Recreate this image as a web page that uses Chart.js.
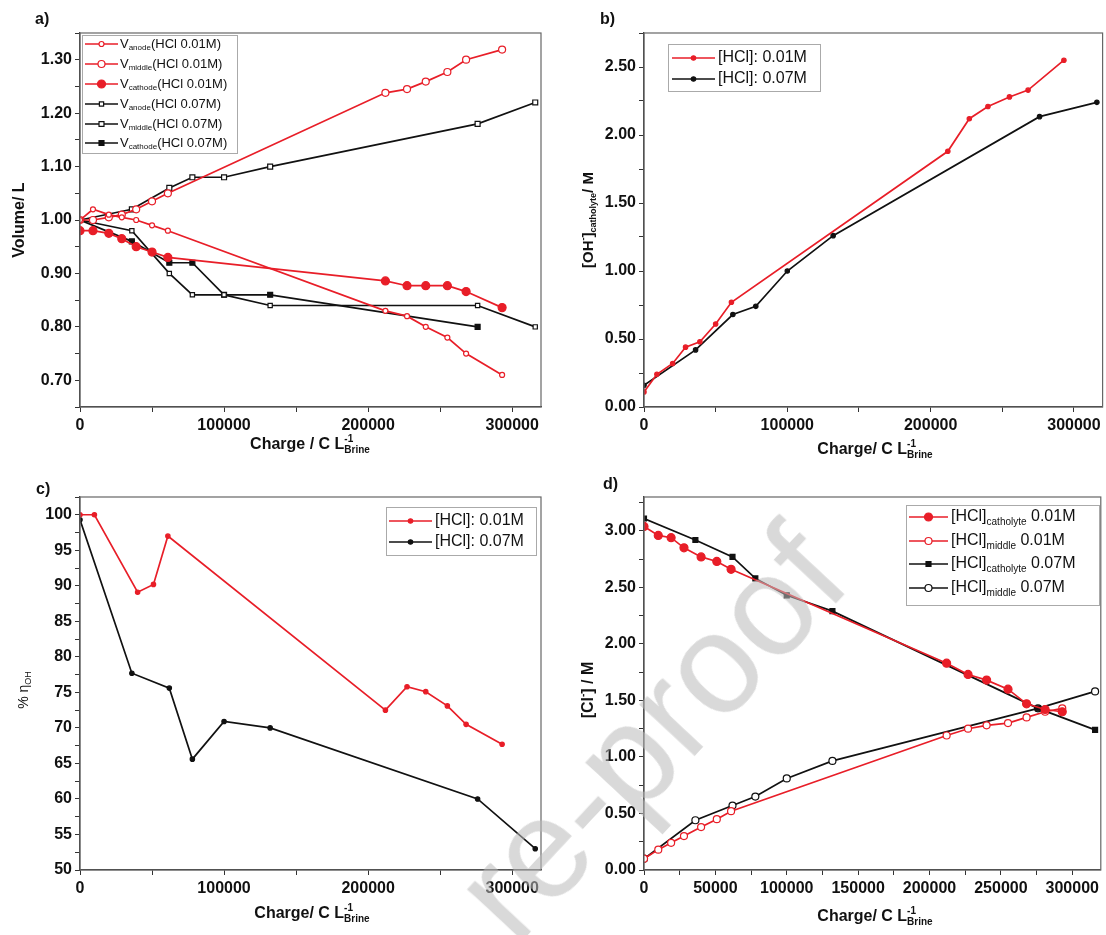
<!doctype html>
<html lang="en">
<head>
<meta charset="utf-8">
<title>Charge vs volume, [OH-], efficiency and [Cl-]</title>
<script src="https://cdn.jsdelivr.net/npm/chart.js@4.4.1/dist/chart.umd.min.js"></script>
<style>
  html, body { margin: 0; padding: 0; background: #fff; }
  body { width: 1106px; height: 935px; position: relative; overflow: hidden; font-family: "Liberation Sans", Arial, sans-serif; }
  .panel { position: absolute; }
  .watermark {
    position: absolute; left: 428px; top: 866px; white-space: nowrap;
    font: 142px "Liberation Sans", Arial, sans-serif; line-height: 1;
    color: rgba(185,185,185,0.55); transform-origin: 0 0; transform: rotate(-47deg);
    pointer-events: none;
  }
</style>
</head>
<body>
<div class="panel" style="left:0;top:0"><canvas id="chartA" width="553" height="467"></canvas></div>
<div class="panel" style="left:553px;top:0"><canvas id="chartB" width="553" height="467"></canvas></div>
<div class="panel" style="left:0;top:467px"><canvas id="chartC" width="553" height="468"></canvas></div>
<div class="panel" style="left:553px;top:467px"><canvas id="chartD" width="553" height="468"></canvas></div>
<div class="watermark">re-proof</div>

<script>
// ---- data ----
// charge (C per L brine) at which samples were taken
const chargeRed = [0, 9000, 20000, 29000, 39000, 50000, 61000, 212000, 227000, 240000, 255000, 268000, 293000];
const chargeBlack = [0, 36000, 62000, 78000, 100000, 132000, 276000, 316000];

// a) volumes (L)
const vAnode001 = [1.00, 1.02, 1.01, 1.005, 1.00, 0.99, 0.98, 0.83, 0.82, 0.80, 0.78, 0.75, 0.71];
const vMiddle001 = [1.00, 1.00, 1.005, 1.01, 1.02, 1.035, 1.05, 1.238, 1.245, 1.259, 1.277, 1.30, 1.319];
const vCathode001 = [0.98, 0.98, 0.975, 0.965, 0.95, 0.94, 0.93, 0.886, 0.877, 0.877, 0.877, 0.866, 0.836];
const vAnode007 = [1.00, 0.98, 0.90, 0.86, 0.86, 0.84, 0.84, 0.80];
const vMiddle007 = [1.00, 1.02, 1.06, 1.08, 1.08, 1.10, 1.18, 1.22];
const vCathode007 = [1.00, 0.96, 0.92, 0.92, 0.86, 0.86, 0.80, null];

// b) [OH-] catholyte (M)
const ohRed = [0.11, 0.24, 0.32, 0.44, 0.48, 0.61, 0.77, 1.88, 2.12, 2.21, 2.28, 2.33, 2.55];
const ohBlack = [0.16, 0.42, 0.68, 0.74, 1.00, 1.26, 2.135, 2.24];

// c) % efficiency OH-
const chargeRedEff = [0, 10000, 40000, 51000, 61000, 212000, 227000, 240000, 255000, 268000, 293000];
const effRed = [100, 100, 89.1, 90.2, 97.0, 72.5, 75.8, 75.1, 73.1, 70.5, 67.7];
const effBlack = [99.3, 77.7, 75.6, 65.6, 70.9, 70.0, 60.0, 53.0];

// d) [Cl-] (M)
const chargeRedCl = [0, 10000, 19000, 28000, 40000, 51000, 61000, 212000, 227000, 240000, 255000, 268000, 281000, 293000];
const clCatholyte001 = [3.04, 2.96, 2.94, 2.85, 2.77, 2.73, 2.66, 1.83, 1.73, 1.68, 1.60, 1.47, 1.42, 1.40];
const clMiddle001 = [0.10, 0.18, 0.24, 0.30, 0.38, 0.45, 0.52, 1.19, 1.25, 1.28, 1.30, 1.35, 1.40, 1.43];
const clCatholyte007 = [3.11, 2.92, 2.77, 2.58, 2.43, 2.29, 1.43, 1.24];
const clMiddle007 = [0.10, 0.44, 0.57, 0.65, 0.81, 0.965, 1.43, 1.58];

// tick labels
const xTicksMain = [0, 100000, 200000, 300000];
const xTicksD = [0, 50000, 100000, 150000, 200000, 250000, 300000];
const yTicksA = [0.70, 0.80, 0.90, 1.00, 1.10, 1.20, 1.30];
const yTicksB = [0.00, 0.50, 1.00, 1.50, 2.00, 2.50];
const yTicksC = [50, 55, 60, 65, 70, 75, 80, 85, 90, 95, 100];
const yTicksD = [0.00, 0.50, 1.00, 1.50, 2.00, 2.50, 3.00];

// ---- helpers ----
const RED = 'rgb(232,30,40)';
const BLACK = '#111';
const FONT = '"Liberation Sans", Arial, sans-serif';

function pts(xs, ys) {
  return xs.map((x, i) => ({ x: x, y: ys[i] })).filter(p => p.y !== null);
}

function series(label, xs, ys, color, style, radius, filled) {
  return {
    label: label,
    data: pts(xs, ys),
    borderColor: color,
    backgroundColor: color,
    borderWidth: 1.7,
    pointStyle: style,
    pointRadius: radius,
    pointHoverRadius: radius,
    pointBackgroundColor: filled ? color : '#fff',
    pointBorderColor: color,
    pointBorderWidth: 1.2,
    tension: 0,
    fill: false
  };
}

function isMajor(major, v) {
  return major.some(m => Math.abs(m - v) < 1e-6);
}

// major ticks plus one minor tick half way between them
function withMinor(major, min, max) {
  const step = major[1] - major[0];
  const out = [];
  for (let k = -2; k <= major.length * 2; k++) {
    const v = Math.round((major[0] + k * step / 2) * 1e6) / 1e6;
    if (v >= min - 1e-9 && v <= max + 1e-9) out.push(v);
  }
  return out;
}

function axes(o) {
  const tickFont = { family: FONT, size: 16, weight: 'bold' };
  return {
    x: {
      type: 'linear', min: o.xMin, max: o.xMax,
      afterBuildTicks: s => { s.ticks = withMinor(o.xMajor, o.xMin, o.xMax).map(v => ({ value: v })); },
      afterFit: s => { s.height = o.bottom; },
      ticks: {
        autoSkip: false, maxRotation: 0, padding: 4, color: '#111', font: tickFont,
        callback: v => isMajor(o.xMajor, v) ? String(v) : ''
      },
      grid: { drawOnChartArea: false, tickLength: 5, color: '#333' },
      border: { color: '#333', width: 1.3 }
    },
    y: {
      type: 'linear', min: o.yMin, max: o.yMax,
      afterBuildTicks: s => { s.ticks = withMinor(o.yMajor, o.yMin, o.yMax).map(v => ({ value: v })); },
      afterFit: s => { s.width = o.left; },
      ticks: {
        autoSkip: false, padding: 3, color: '#111', font: tickFont,
        callback: v => isMajor(o.yMajor, v) ? v.toFixed(o.yDec) : ''
      },
      grid: { drawOnChartArea: false, tickLength: 5, color: '#333' },
      border: { color: '#333', width: 1.3 }
    }
  };
}

function richWidth(ctx, parts, size, weight) {
  let w = 0;
  parts.forEach(p => {
    if (p.t !== undefined) {
      ctx.font = weight + ' ' + size + 'px ' + FONT;
      w += ctx.measureText(p.t).width;
    } else {
      ctx.font = weight + ' ' + Math.round(size * 0.62) + 'px ' + FONT;
      w += Math.max(p.sup ? ctx.measureText(p.sup).width : 0, p.sub ? ctx.measureText(p.sub).width : 0);
    }
  });
  return w;
}

// text with sub/superscripts; parts: {t} normal, {sup, sub} small (stacked when both)
function drawRich(ctx, item) {
  const size = item.size;
  const weight = item.weight || 'bold';
  ctx.save();
  ctx.translate(item.x, item.y);
  if (item.rot) ctx.rotate(item.rot * Math.PI / 180);
  ctx.fillStyle = item.color || '#111';
  ctx.textBaseline = 'middle';
  ctx.textAlign = 'left';
  let x = item.align === 'left' ? 0 : -richWidth(ctx, item.parts, size, weight) / 2;
  item.parts.forEach(p => {
    if (p.t !== undefined) {
      ctx.font = weight + ' ' + size + 'px ' + FONT;
      ctx.fillText(p.t, x, 0);
      x += ctx.measureText(p.t).width;
    } else {
      ctx.font = weight + ' ' + Math.round(size * 0.62) + 'px ' + FONT;
      let w = 0;
      if (p.sup) { ctx.fillText(p.sup, x, -size * 0.38); w = ctx.measureText(p.sup).width; }
      if (p.sub) { ctx.fillText(p.sub, x, size * 0.32); w = Math.max(w, ctx.measureText(p.sub).width); }
      x += w;
    }
  });
  ctx.restore();
}

function panelPlugins(legend, texts) {
  return [{
    id: 'frame',
    afterDraw(chart) {
      const a = chart.chartArea, ctx = chart.ctx;
      ctx.save();
      ctx.strokeStyle = '#666';
      ctx.lineWidth = 1.2;
      ctx.strokeRect(a.left, a.top, a.right - a.left, a.bottom - a.top);
      ctx.restore();
    }
  }, {
    id: 'boxLegend',
    afterDatasetsDraw(chart) {
      const ctx = chart.ctx, o = legend;
      ctx.save();
      ctx.fillStyle = '#fff';
      ctx.fillRect(o.x, o.y, o.w, o.h);
      ctx.strokeStyle = '#aaa';
      ctx.lineWidth = 1;
      ctx.strokeRect(o.x + 0.5, o.y + 0.5, o.w, o.h);
      o.rows.forEach(r => {
        const ds = chart.data.datasets[r.ds];
        ctx.strokeStyle = ds.borderColor;
        ctx.lineWidth = ds.borderWidth;
        ctx.beginPath();
        ctx.moveTo(o.x0, r.y);
        ctx.lineTo(o.x1, r.y);
        ctx.stroke();
        ctx.fillStyle = ds.pointBackgroundColor;
        ctx.strokeStyle = ds.pointBorderColor;
        ctx.lineWidth = ds.pointBorderWidth;
        Chart.helpers.drawPoint(ctx, { pointStyle: ds.pointStyle, radius: ds.pointRadius, rotation: 0, borderWidth: ds.pointBorderWidth }, (o.x0 + o.x1) / 2, r.y);
        drawRich(ctx, { x: o.tx, y: r.y, align: 'left', size: o.size, weight: 'normal', parts: r.parts });
      });
      ctx.restore();
    }
  }, {
    id: 'richText',
    afterDraw(chart) {
      texts.forEach(t => drawRich(chart.ctx, t));
    }
  }];
}

function makeChart(id, datasets, o, legend, texts) {
  return new Chart(document.getElementById(id), {
    type: 'line',
    data: { datasets: datasets },
    options: {
      responsive: false,
      animation: false,
      devicePixelRatio: 1,
      layout: { padding: { top: o.top, right: o.right, left: 0, bottom: 0 } },
      scales: axes(o),
      plugins: { legend: { display: false }, tooltip: { enabled: false } }
    },
    plugins: panelPlugins(legend, texts)
  });
}

const chargeTitle = [{ t: 'Charge/ C L' }, { sup: '-1', sub: 'Brine' }];

// ---- a) volume ----
makeChart('chartA', [
  series('Vanode 0.01', chargeRed, vAnode001, RED, 'circle', 2.5, false),
  series('Vmiddle 0.01', chargeRed, vMiddle001, RED, 'circle', 3.5, false),
  series('Vcathode 0.01', chargeRed, vCathode001, RED, 'circle', 4, true),
  series('Vanode 0.07', chargeBlack, vAnode007, BLACK, 'rect', 3, false),
  series('Vmiddle 0.07', chargeBlack, vMiddle007, BLACK, 'rect', 3.5, false),
  series('Vcathode 0.07', chargeBlack, vCathode007, BLACK, 'rect', 3.5, true)
], { xMin: 0, xMax: 320000, xMajor: xTicksMain, yMin: 0.65, yMax: 1.35, yMajor: yTicksA, yDec: 2,
     top: 33, right: 12, left: 80, bottom: 60 },
{ x: 82, y: 35, w: 155, h: 118, x0: 85, x1: 118, tx: 120, size: 13, rows: [
  { ds: 0, y: 44, parts: [{ t: 'V' }, { sub: 'anode' }, { t: '(HCl 0.01M)' }] },
  { ds: 1, y: 64, parts: [{ t: 'V' }, { sub: 'middle' }, { t: '(HCl 0.01M)' }] },
  { ds: 2, y: 84, parts: [{ t: 'V' }, { sub: 'cathode' }, { t: '(HCl 0.01M)' }] },
  { ds: 3, y: 104, parts: [{ t: 'V' }, { sub: 'anode' }, { t: '(HCl 0.07M)' }] },
  { ds: 4, y: 124, parts: [{ t: 'V' }, { sub: 'middle' }, { t: '(HCl 0.07M)' }] },
  { ds: 5, y: 143, parts: [{ t: 'V' }, { sub: 'cathode' }, { t: '(HCl 0.07M)' }] }
] },
[
  { x: 35, y: 20, align: 'left', size: 16, parts: [{ t: 'a)' }] },
  { x: 20, y: 220, rot: -90, size: 16, parts: [{ t: 'Volume/ L' }] },
  { x: 310, y: 445, size: 16, parts: [{ t: 'Charge / C L' }, { sup: '-1', sub: 'Brine' }] }
]);

// ---- b) [OH-] ----
makeChart('chartB', [
  series('[HCl]: 0.01M', chargeRed, ohRed, RED, 'circle', 2.2, true),
  series('[HCl]: 0.07M', chargeBlack, ohBlack, BLACK, 'circle', 2.2, true)
], { xMin: 0, xMax: 320000, xMajor: xTicksMain, yMin: 0, yMax: 2.75, yMajor: yTicksB, yDec: 2,
     top: 33, right: 2, left: 91, bottom: 60 },
{ x: 115, y: 44, w: 152, h: 47, x0: 119, x1: 162, tx: 165, size: 16, rows: [
  { ds: 0, y: 58, parts: [{ t: '[HCl]: 0.01M' }] },
  { ds: 1, y: 79, parts: [{ t: '[HCl]: 0.07M' }] }
] },
[
  { x: 47, y: 20, align: 'left', size: 16, parts: [{ t: 'b)' }] },
  { x: 36, y: 220, rot: -90, size: 15, parts: [{ t: '[OH' }, { sup: '-' }, { t: ']' }, { sub: 'catholyte' }, { t: '/ M' }] },
  { x: 322, y: 450, size: 16, parts: chargeTitle }
]);

// ---- c) efficiency ----
makeChart('chartC', [
  series('[HCl]: 0.01M', chargeRedEff, effRed, RED, 'circle', 2.2, true),
  series('[HCl]: 0.07M', chargeBlack, effBlack, BLACK, 'circle', 2.2, true)
], { xMin: 0, xMax: 320000, xMajor: xTicksMain, yMin: 50, yMax: 102.5, yMajor: yTicksC, yDec: 0,
     top: 30, right: 12, left: 80, bottom: 65 },
{ x: 386, y: 40, w: 150, h: 48, x0: 389, x1: 432, tx: 435, size: 16, rows: [
  { ds: 0, y: 54, parts: [{ t: '[HCl]: 0.01M' }] },
  { ds: 1, y: 75, parts: [{ t: '[HCl]: 0.07M' }] }
] },
[
  { x: 36, y: 23, align: 'left', size: 16, parts: [{ t: 'c)' }] },
  { x: 24, y: 223, rot: -90, size: 14, weight: 'normal', parts: [{ t: '% η' }, { sub: 'OH' }] },
  { x: 312, y: 447, size: 16, parts: chargeTitle }
]);

// ---- d) [Cl-] ----
makeChart('chartD', [
  series('[HCl]catholyte 0.01M', chargeRedCl, clCatholyte001, RED, 'circle', 4, true),
  series('[HCl]middle 0.01M', chargeRedCl, clMiddle001, RED, 'circle', 3.5, false),
  series('[HCl]catholyte 0.07M', chargeBlack, clCatholyte007, BLACK, 'rect', 3.5, true),
  series('[HCl]middle 0.07M', chargeBlack, clMiddle007, BLACK, 'circle', 3.5, false)
], { xMin: 0, xMax: 320000, xMajor: xTicksD, yMin: 0, yMax: 3.3, yMajor: yTicksD, yDec: 2,
     top: 30, right: 2, left: 91, bottom: 65 },
{ x: 353, y: 38, w: 193, h: 100, x0: 356, x1: 395, tx: 398, size: 16, rows: [
  { ds: 0, y: 50, parts: [{ t: '[HCl]' }, { sub: 'catholyte' }, { t: ' 0.01M' }] },
  { ds: 1, y: 74, parts: [{ t: '[HCl]' }, { sub: 'middle' }, { t: ' 0.01M' }] },
  { ds: 2, y: 97, parts: [{ t: '[HCl]' }, { sub: 'catholyte' }, { t: ' 0.07M' }] },
  { ds: 3, y: 121, parts: [{ t: '[HCl]' }, { sub: 'middle' }, { t: ' 0.07M' }] }
] },
[
  { x: 50, y: 18, align: 'left', size: 16, parts: [{ t: 'd)' }] },
  { x: 36, y: 223, rot: -90, size: 16, parts: [{ t: '[Cl' }, { sup: '-' }, { t: '] / M' }] },
  { x: 322, y: 450, size: 16, parts: chargeTitle }
]);
</script>
</body>
</html>
